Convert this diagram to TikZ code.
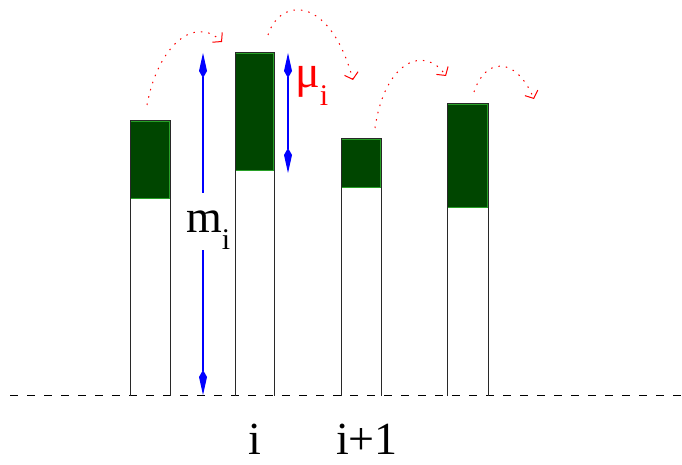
\documentclass[tikz,border=0pt]{standalone}
\usepackage{fontspec}
\setmainfont{Liberation Serif}
\usetikzlibrary{arrows.meta}
\definecolor{blockfill}{RGB}{0,70,0}
\definecolor{blockedge}{RGB}{40,160,40}
\definecolor{hopred}{RGB}{255,0,0}
\definecolor{gapblue}{RGB}{0,0,255}
\definecolor{wallgray}{RGB}{40,40,40}
\newcommand{\subi}{\raisebox{-0.38em}{\fontsize{30}{30}\selectfont i}}

\begin{document}
\begin{tikzpicture}[x=1pt,y=-1pt,
  hop/.style={hopred,line width=1pt,dash pattern=on 1.5pt off 6pt,
              -{Straight Barb[length=6pt,width=14pt,line width=1pt]}},
  gaparrow/.style={gapblue,line width=1.2pt,
              {Kite[length=25pt,width=8pt,inset=7pt]}-{Kite[length=25pt,width=8pt,inset=7pt]}},
  lab/.style={font=\fontsize{46}{48}\selectfont}]

\useasboundingbox (0,0) rectangle (682,465);

% ground line
\coordinate (gl) at (10,395);
\coordinate (gr) at (682,395);
\draw[line width=0.8pt,dash pattern=on 8pt off 9pt] (gl) -- (gr);

% bars: {left, top, bottom of block, width}
\foreach \xl/\ytop/\yg/\w in {130/120/198/40, 235/52/171/39, 341/138/188/40, 447/103/207/41}{
  \fill[blockfill] (\xl,\ytop) rectangle (\xl+\w,\yg);
  \draw[blockedge,line width=1pt] (\xl+0.5,\ytop+1.5) rectangle (\xl+\w-0.5,\yg);
  \draw[wallgray,line width=0.9pt] (\xl,396) -- (\xl,\ytop) -- (\xl+\w,\ytop) -- (\xl+\w,396);
}

% height of column i
\coordinate (mtop) at (203,53);
\coordinate (mbot) at (203,395);
\draw[gaparrow] (mtop) -- (mbot);
\node[lab,anchor=base west,fill=white,inner sep=1pt,text height=38pt] (lblm) at (185,232) {m\subi};

% extra height mu_i
\coordinate (utop) at (288,53);
\coordinate (ubot) at (288,173);
\draw[gaparrow] (utop) -- (ubot);
\node[lab,hopred,anchor=base west,inner sep=1pt] (lblu) at (294,88) {μ\subi};

% hops
\coordinate (h1s) at (147,105);
\coordinate (h1e) at (222,42);
\coordinate (h2s) at (268,35);
\coordinate (h2e) at (353,80);
\coordinate (h3s) at (375,128);
\coordinate (h3e) at (446,76);
\coordinate (h4s) at (474,92);
\coordinate (h4e) at (534,99);
\draw[hop] (h1s) .. controls (158,45) and (195,15) .. (h1e);
\draw[hop] (h2s) .. controls (280,-3) and (330,-5) .. (h2e);
\draw[hop] (h3s) .. controls (385,60) and (425,45) .. (h3e);
\draw[hop] (h4s) .. controls (485,58) and (515,55) .. (h4e);

% column labels
\node[lab,anchor=base,inner sep=0pt,text depth=0pt] (lbli) at (255,454) {i};
\node[lab,anchor=base,inner sep=0pt,text depth=0pt] (lblip) at (367,454) {i+1};

\end{tikzpicture}
\end{document}
